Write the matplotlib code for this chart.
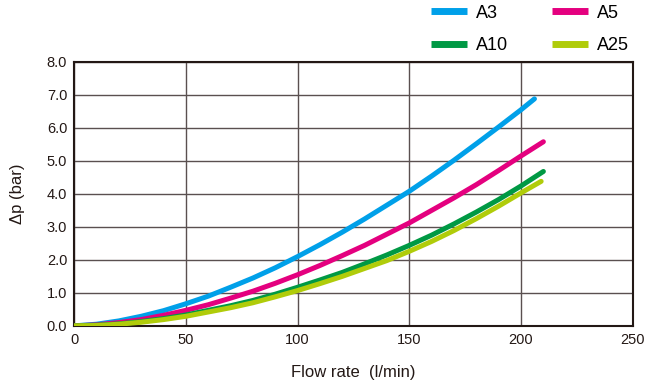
import matplotlib.pyplot as plt

plt.rcParams['font.family'] = ['Liberation Sans', 'DejaVu Sans']

# Data
flow = [0, 10, 20, 30, 40, 50, 60, 70, 80, 90, 100, 110, 120, 130, 140,
        150, 160, 170, 180, 190, 200]

a3_x = flow + [206]
a3_y = [0, 0.05, 0.15, 0.29, 0.46, 0.67, 0.90, 1.17, 1.45, 1.76, 2.10,
        2.46, 2.84, 3.24, 3.66, 4.08, 4.54, 5.02, 5.52, 6.03, 6.55, 6.88]

a5_x = flow + [210]
a5_y = [0, 0.03, 0.10, 0.19, 0.32, 0.47, 0.64, 0.84, 1.05, 1.29, 1.55,
        1.83, 2.13, 2.44, 2.78, 3.12, 3.50, 3.88, 4.28, 4.71, 5.15, 5.58]

a10_x = flow + [210]
a10_y = [0, 0.02, 0.06, 0.13, 0.22, 0.33, 0.47, 0.61, 0.77, 0.96, 1.17,
         1.39, 1.62, 1.88, 2.15, 2.44, 2.75, 3.09, 3.45, 3.83, 4.24, 4.68]

a25_x = flow + [209]
a25_y = [0, 0.01, 0.05, 0.11, 0.19, 0.29, 0.42, 0.55, 0.70, 0.88, 1.07,
         1.28, 1.50, 1.74, 1.98, 2.26, 2.56, 2.89, 3.25, 3.63, 4.03, 4.38]

series = [
    ("A3", a3_x, a3_y, "#00a0e9"),
    ("A5", a5_x, a5_y, "#e4007f"),
    ("A10", a10_x, a10_y, "#009944"),
    ("A25", a25_x, a25_y, "#b0cc0a"),
]

fig = plt.figure(figsize=(6.45, 3.87), dpi=100)
ax = fig.add_axes([0.115, 0.158, 0.866, 0.682])

for name, x, y, c in series:
    ax.plot(x, y, color=c, lw=3.6, label=name, solid_capstyle='round',
            solid_joinstyle='round', zorder=3)

ax.set_xlim(0, 250)
ax.set_ylim(0, 8)
ax.set_xticks(range(0, 251, 50))
ax.set_yticks(range(0, 9))
ax.set_yticklabels([f"{v:.1f}" for v in range(0, 9)])
ax.grid(True, color="#5a5050", lw=1.0)
ax.tick_params(length=0, labelsize=10.5, colors="#231815", pad=5)
for s in ax.spines.values():
    s.set_color("#231815")
    s.set_linewidth(1.5)

ax.set_xlabel("Flow rate  (l/min)", fontsize=12, color="#231815", labelpad=13)
ax.set_ylabel("Δp (bar)", fontsize=12, color="#231815", labelpad=16)

# legend order: A3, A10 in column 1; A5, A25 in column 2
handles, labels = ax.get_legend_handles_labels()
order = [0, 2, 1, 3]
fig.legend([handles[i] for i in order], [labels[i] for i in order],
           ncol=2, frameon=False, fontsize=13, handlelength=2.0,
           handletextpad=0.5, columnspacing=2.4, labelspacing=0.85,
           loc="upper left", bbox_to_anchor=(0.643, 1.03))
for line in fig.legends[0].get_lines():
    line.set_linewidth(5)
    line.set_solid_capstyle('butt')

plt.savefig("out.png")
